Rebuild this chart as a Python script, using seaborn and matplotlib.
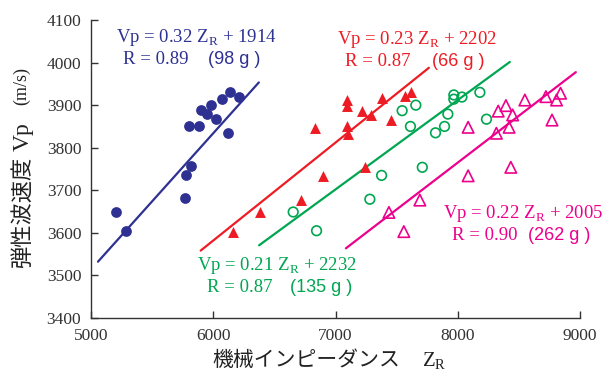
import numpy as np
import pandas as pd
import matplotlib
matplotlib.use("Agg")
import matplotlib.pyplot as plt
import seaborn as sns

# ---- data ----
blue_x = [6137, 6210, 6074, 5981, 5897, 5951, 6025, 5804, 5883, 6123, 5820, 5777, 5766, 5204, 5286]
blue_y = [3932, 3918, 3915, 3900, 3889, 3879, 3868, 3850, 3850, 3835, 3756, 3736, 3681, 3649, 3605]

red_x = [7090, 7090, 7384, 7213, 7294, 7450, 7567, 7621, 6835, 7090, 7104, 7241, 6895, 6714, 6382, 6164]
red_y = [3912, 3898, 3916, 3886, 3877, 3865, 3922, 3930, 3847, 3850, 3832, 3754, 3734, 3677, 3649, 3603]

green_x = [7657, 7545, 7613, 7710, 7377, 7281, 6654, 6845, 7968, 7968, 8034, 8181, 7919, 7892, 7818, 8235]
green_y = [3900, 3887, 3850, 3754, 3735, 3679, 3649, 3605, 3924, 3914, 3919, 3930, 3879, 3850, 3835, 3867]

mag_x = [8549, 8721, 8841, 8808, 8331, 8394, 8449, 8085, 8420, 8316, 8771, 8085, 8434, 7690, 7437, 7559]
mag_y = [3912, 3920, 3928, 3912, 3886, 3899, 3877, 3848, 3848, 3834, 3865, 3734, 3754, 3677, 3648, 3603]

# regression lines: slope, intercept, x-range drawn
slopes = [0.32, 0.23, 0.21, 0.22]
intercepts = [1914, 2202, 2232, 2005]
line_x0 = [5057, 5897, 6375, 7085]
line_x1 = [6373, 7764, 8426, 8966]
r_values = ["0.89", "0.87", "0.87", "0.90"]
masses = ["98 g", "66 g", "135 g", "262 g"]

x_ticks = [5000, 6000, 7000, 8000, 9000]
y_ticks = [3400, 3500, 3600, 3700, 3800, 3900, 4000, 4100]

colors = ["#2e3192", "#ed1c24", "#00a651", "#ec008c"]

sns.set_theme(style="ticks")
plt.rcParams['font.family'] = ['Liberation Serif', 'DejaVu Serif']
plt.rcParams['mathtext.fontset'] = 'custom'
plt.rcParams['mathtext.rm'] = 'Liberation Serif'

W, H = 606, 373
fig = plt.figure(figsize=(W / 100, H / 100), dpi=100)
ax = fig.add_axes([91 / W, 1 - 318 / H, (580 - 91) / W, (318 - 20) / H])

series = [(blue_x, blue_y), (red_x, red_y), (green_x, green_y), (mag_x, mag_y)]
markers = ["o", "^", "o", "^"]
filled = [True, True, False, False]
sizes = [60, 62, 48, 68]

for i, (xs, ys) in enumerate(series):
    df = pd.DataFrame({"x": xs, "y": ys})
    if filled[i]:
        sns.scatterplot(data=df, x="x", y="y", ax=ax, marker=markers[i], s=sizes[i],
                        color=colors[i], edgecolor=colors[i], linewidth=0, zorder=3)
    else:
        sns.scatterplot(data=df, x="x", y="y", ax=ax, marker=markers[i], s=sizes[i],
                        facecolor="none", edgecolor=colors[i], linewidth=1.2, zorder=3)
    lx = np.array([line_x0[i], line_x1[i]])
    ldf = pd.DataFrame({"x": lx, "y": slopes[i] * lx + intercepts[i]})
    sns.lineplot(data=ldf, x="x", y="y", ax=ax, color=colors[i], linewidth=1.6, zorder=2)

ax.set_xlim(5000, 9000)
ax.set_ylim(3400, 4100)
ax.set_xticks(x_ticks)
ax.set_yticks(y_ticks)
ax.tick_params(direction="in", length=5, width=1, labelsize=12.5, colors="#333333")
ax.tick_params(axis="y", pad=7)
ax.tick_params(axis="x", pad=7)
sns.despine(ax=ax)
for s in ["left", "bottom"]:
    ax.spines[s].set_color("#333333")
    ax.spines[s].set_linewidth(1)

ax.set_xlabel("")
ax.set_ylabel("")

# annotations (pixel positions)
fs = 13.5
eq_pos = [(116, 38), (337, 40), (197, 265), (443, 213)]
r_pos = [(123, 60), (345, 62), (207, 287), (452, 236)]
m_pos = [(208, 60), (432, 62), (290, 287), (528, 236)]
sans = ['Liberation Sans', 'DejaVu Sans']
for i in range(4):
    ex, ey = eq_pos[i]
    fig.text(ex / W, 1 - ey / H,
             "Vp = %.2f Z$_{\\mathrm{R}}$ + %d" % (slopes[i], intercepts[i]),
             color=colors[i], fontsize=fs, va="center", ha="left")
    rx, ry = r_pos[i]
    fig.text(rx / W, 1 - ry / H, "R = %s" % r_values[i],
             color=colors[i], fontsize=fs, va="center", ha="left")
    mx, my = m_pos[i]
    fig.text(mx / W, 1 - my / H, "(%s )" % masses[i],
             color=colors[i], fontsize=13, va="center", ha="left", family=sans)

# axis labels
cjk = ['Noto Sans CJK JP', 'DejaVu Sans']
fig.text(306 / W, 1 - 360 / H, "機械インピーダンス",
         fontsize=15, ha="center", va="center", color="#222222", family=cjk)
fig.text(422 / W, 1 - 361 / H, "Z$_{\\mathrm{R}}$",
         fontsize=15, ha="left", va="center", color="#222222")
fig.text(22 / W, 1 - 212 / H, "弾性波速度", rotation=90,
         fontsize=16, ha="center", va="center", color="#222222", family=cjk)
fig.text(23 / W, 1 - 137 / H, "Vp", rotation=90,
         fontsize=17, ha="center", va="center", color="#222222")
fig.text(22 / W, 1 - 86 / H, "(m/s)", rotation=90,
         fontsize=13, ha="center", va="center", color="#222222")

fig.savefig("out.png", dpi=100)
